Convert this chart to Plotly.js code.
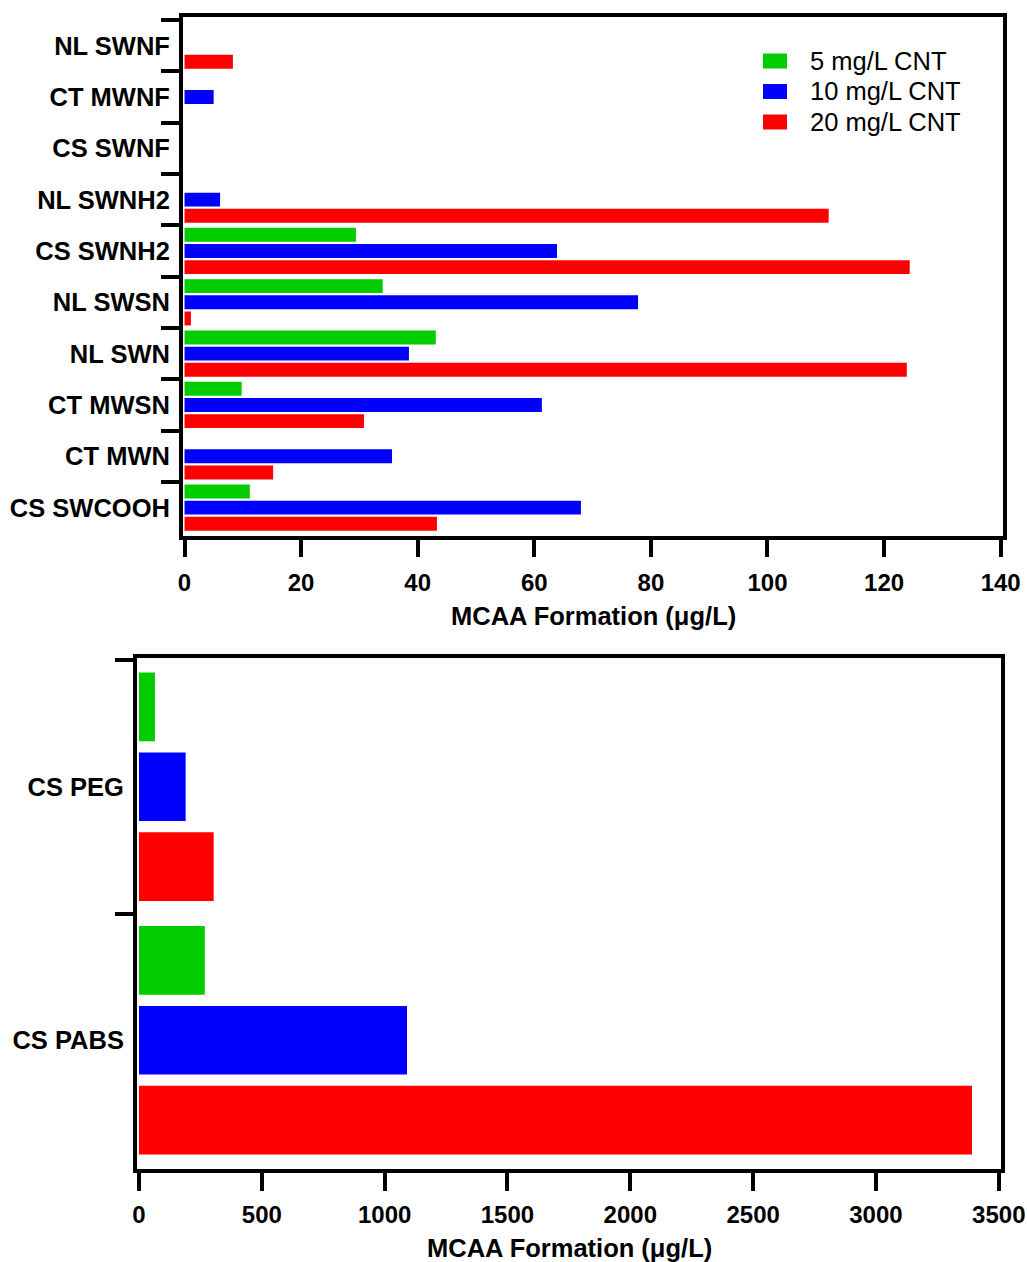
<!DOCTYPE html>
<html><head><meta charset="utf-8">
<script src="https://cdn.plot.ly/plotly-3.0.1.min.js"></script>
<style>html,body{margin:0;padding:0;background:#fff}#chart{width:1027px;height:1262px}</style>
</head><body><div id="chart"></div>
<script>
// ---- data ----
const topCategories = ["NL SWNF","CT MWNF","CS SWNF","NL SWNH2","CS SWNH2","NL SWSN","NL SWN","CT MWSN","CT MWN","CS SWCOOH"];
const top5mg  = [0, 0, 0, 0, 29.4, 34.0, 43.1, 9.8, 0, 11.2];
const top10mg = [0, 5.0, 0, 6.1, 63.9, 77.8, 38.5, 61.3, 35.6, 68.0];
const top20mg = [8.3, 0, 0, 110.5, 124.4, 1.1, 123.9, 30.8, 15.2, 43.3];

const bottomCategories = ["CS PEG","CS PABS"];
const bottom5mg  = [65, 268];
const bottom10mg = [190, 1091];
const bottom20mg = [304, 3391];

const seriesNames  = ["5 mg/L CNT","10 mg/L CNT","20 mg/L CNT"];
const seriesColors = ["#00CC00","#0000FF","#FF0000"];
const axisTitle = "MCAA Formation (μg/L)";

// ---- build ----
const W = 1027, H = 1262;
const px = x => x / W;
const py = y => 1 - y / H;
const FONT = "Liberation Sans, Arial, Helvetica, sans-serif";

const topSeries = [top5mg, top10mg, top20mg];
const bottomSeries = [bottom5mg, bottom10mg, bottom20mg];

const traces = [];
topSeries.forEach((vals, i) => traces.push({
  type: "bar", orientation: "h", name: seriesNames[i],
  x: vals, y: topCategories, xaxis: "x", yaxis: "y",
  marker: {color: seriesColors[i], line: {width: 0}},
  showlegend: false, hoverinfo: "x+y"
}));
bottomSeries.forEach((vals, i) => traces.push({
  type: "bar", orientation: "h", name: seriesNames[i],
  x: vals, y: bottomCategories, xaxis: "x2", yaxis: "y2",
  marker: {color: seriesColors[i], line: {width: 0}},
  showlegend: false, hoverinfo: "x+y"
}));

const numFont = {family: FONT, size: 24, color: "#000", weight: "bold"};
const catFont = {family: FONT, size: 25.5, color: "#000", weight: "bold"};
const common = {
  showline: true, mirror: true, linewidth: 4, linecolor: "#000",
  ticks: "outside", tickwidth: 4, tickcolor: "#000",
  showgrid: false, zeroline: false, fixedrange: true
};

const shapes = [];
const annotations = [];
// custom legend
const legendRows = [61, 91.5, 122];
seriesNames.forEach((n, i) => {
  shapes.push({type: "rect", xref: "paper", yref: "paper",
    x0: px(763), x1: px(787), y0: py(legendRows[i] - 7.5), y1: py(legendRows[i] + 7.5),
    fillcolor: seriesColors[i], line: {width: 0}});
  annotations.push({xref: "paper", yref: "paper", x: px(808), y: py(legendRows[i]),
    xanchor: "left", yanchor: "middle", showarrow: false, text: n,
    font: {family: FONT, size: 25.5, color: "#000"}});
});
// axis titles
annotations.push({xref: "paper", yref: "paper", x: px(593), y: py(616), xanchor: "center", yanchor: "middle",
  showarrow: false, text: axisTitle, font: {family: FONT, size: 25.5, color: "#000", weight: "bold"}});
annotations.push({xref: "paper", yref: "paper", x: px(569), y: py(1248), xanchor: "center", yanchor: "middle",
  showarrow: false, text: axisTitle, font: {family: FONT, size: 25.5, color: "#000", weight: "bold"}});

const layout = {
  width: W, height: H,
  margin: {l: 0, r: 0, t: 0, b: 0, pad: 0},
  paper_bgcolor: "#fff", plot_bgcolor: "#fff",
  barmode: "group", bargap: 0.055, bargroupgap: 0.14,
  showlegend: false,
  xaxis: Object.assign({}, common, {
    domain: [px(183), px(1003)], anchor: "y", range: [-0.26, 140.4],
    tickmode: "linear", tick0: 0, dtick: 20, ticklen: 17,
    tickfont: numFont, ticklabelstandoff: 5
  }),
  yaxis: Object.assign({}, common, {
    domain: [py(536), py(16.7)], anchor: "x", type: "category",
    categoryorder: "array", categoryarray: topCategories,
    range: [9.553, -0.564], tickson: "boundaries", ticklen: 18,
    tickfont: catFont, ticklabelstandoff: 4
  }),
  xaxis2: Object.assign({}, common, {
    domain: [px(137), px(1001)], anchor: "y2", range: [-8, 3509],
    tickmode: "linear", tick0: 0, dtick: 500, ticklen: 18,
    tickfont: numFont, ticklabelstandoff: 3
  }),
  yaxis2: Object.assign({}, common, {
    domain: [py(1169), py(658)], anchor: "x2", type: "category",
    categoryorder: "array", categoryarray: bottomCategories,
    range: [1.508, -0.508], tickson: "boundaries", ticklen: 18,
    tickfont: catFont, ticklabelstandoff: 4
  }),
  shapes: shapes,
  annotations: annotations
};

Plotly.newPlot("chart", traces, layout, {displayModeBar: false, staticPlot: true});
</script>
</body></html>
